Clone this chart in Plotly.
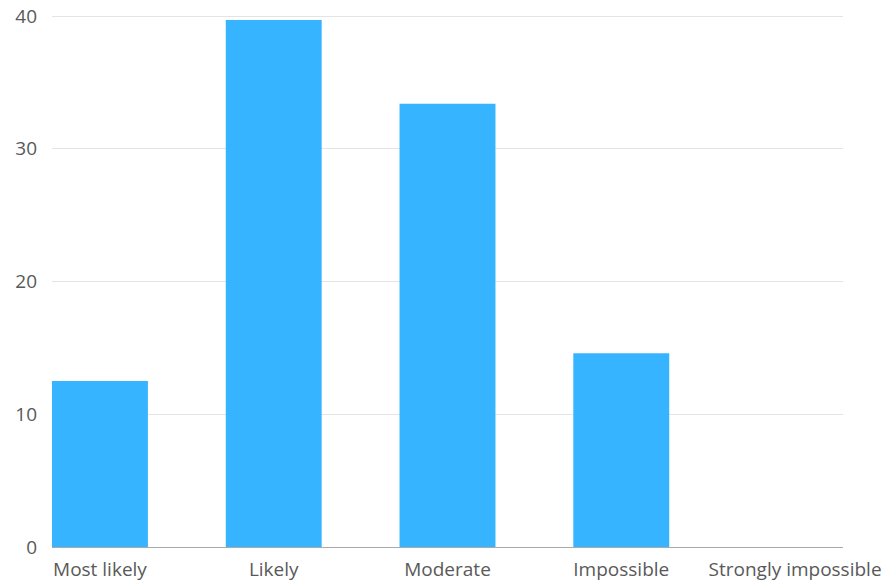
import plotly.graph_objects as go

categories = ["Most likely", "Likely", "Moderate", "Impossible", "Strongly impossible"]
values = [12.5, 39.7, 33.4, 14.6, 0]
y_ticks = [0, 10, 20, 30, 40]

fig = go.Figure(
    go.Bar(
        x=categories,
        y=values,
        marker=dict(color="#36B4FF", line=dict(width=0)),
        hoverinfo="x+y",
    )
)

fig.update_layout(
    width=887,
    height=584,
    margin=dict(l=52, r=44, t=15, b=37, autoexpand=False),
    paper_bgcolor="white",
    plot_bgcolor="white",
    bargap=0.448,
    showlegend=False,
    font=dict(family="Open Sans", size=19, color="#595959"),
    xaxis=dict(
        range=[-0.276, 4.276],
        showgrid=False,
        showline=True,
        linecolor="#aaaaaa",
        linewidth=1,
        ticks="outside",
        ticklen=5,
        tickcolor="rgba(0,0,0,0)",
        automargin=False,
        ticklabeloverflow="allow",
        tickfont=dict(size=19, color="#595959"),
        fixedrange=True,
    ),
    yaxis=dict(
        range=[0, 40.08],
        tickvals=y_ticks,
        showgrid=True,
        gridcolor="#e4e4e4",
        gridwidth=1,
        zeroline=False,
        showline=False,
        ticks="",
        automargin=False,
        ticklabeloverflow="allow",
        ticklabelstandoff=14,
        tickfont=dict(size=19, color="#595959"),
        fixedrange=True,
    ),
)

fig.write_html(
    "out.html",
    config={"displayModeBar": False},
    post_script="document.body.style.margin='0px';",
)
